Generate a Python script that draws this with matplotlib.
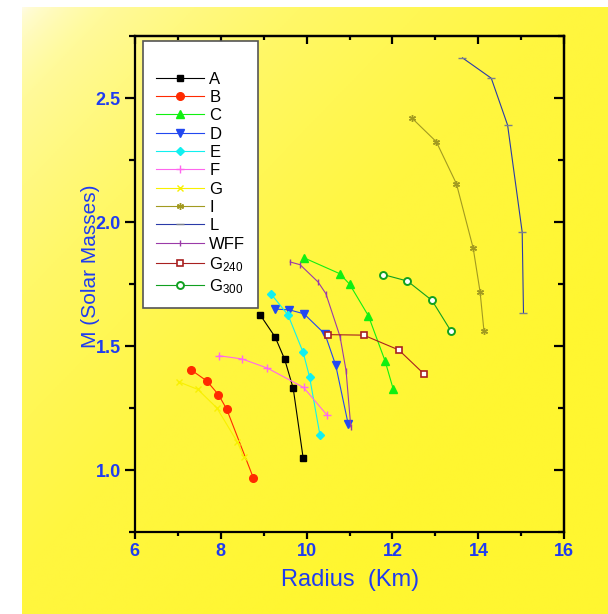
import numpy as np
import matplotlib.pyplot as plt
from matplotlib.colors import LinearSegmentedColormap
from matplotlib.ticker import MultipleLocator

plt.rcParams['font.family'] = ['Liberation Sans', 'DejaVu Sans']
plt.rcParams['mathtext.default'] = 'regular'

# mass-radius relations, radius in km, mass in solar masses
r_a = [8.92, 9.27, 9.49, 9.69, 9.92]
m_a = [1.627, 1.537, 1.448, 1.330, 1.051]

r_b = [7.32, 7.68, 7.95, 8.14, 8.76]
m_b = [1.404, 1.360, 1.305, 1.247, 0.970]

r_c = [9.95, 10.77, 11.00, 11.44, 11.83, 12.02]
m_c = [1.856, 1.793, 1.751, 1.623, 1.440, 1.326]

r_d = [9.26, 9.60, 9.94, 10.43, 10.68, 10.97]
m_d = [1.650, 1.647, 1.631, 1.549, 1.423, 1.186]

r_e = [9.17, 9.57, 9.92, 10.07, 10.31]
m_e = [1.712, 1.626, 1.476, 1.377, 1.144]

r_f = [7.96, 8.50, 9.09, 9.93, 10.47]
m_f = [1.462, 1.449, 1.412, 1.334, 1.224]

r_g = [7.02, 7.47, 7.91, 8.39, 8.54]
m_g = [1.357, 1.326, 1.252, 1.114, 1.054]

r_i = [12.46, 13.02, 13.49, 13.88, 14.04, 14.13]
m_i = [2.419, 2.325, 2.155, 1.895, 1.719, 1.562]

r_l = [13.63, 14.30, 14.68, 15.02, 15.05]
m_l = [2.663, 2.581, 2.392, 1.960, 1.636]

r_wff = [9.62, 9.85, 10.27, 10.45, 10.78, 10.92, 11.03]
m_wff = [1.840, 1.829, 1.759, 1.712, 1.539, 1.402, 1.175]

r_g240 = [10.51, 11.33, 12.15, 12.73]
m_g240 = [1.547, 1.545, 1.485, 1.389]

r_g300 = [11.79, 12.35, 12.92, 13.36]
m_g300 = [1.789, 1.763, 1.685, 1.562]

x_ticks = [6, 8, 10, 12, 14, 16]
y_ticks = [1.0, 1.5, 2.0, 2.5]

blue = '#1f3cf0'

fig = plt.figure(figsize=(6.08, 6.14), dpi=100)

# pale-to-yellow backdrop
bg = fig.add_axes([22 / 608, 0, 1 - 22 / 608, 1 - 7 / 614], zorder=-10)
u, v = np.meshgrid(np.linspace(0, 1, 300), np.linspace(0, 1, 300))
t = np.clip((u + v) / 1.5, 0, 1) ** 0.6
cmap = LinearSegmentedColormap.from_list(
    'bg', ['#fffce6', '#fffa9a', '#fff868', '#fff640', '#fff630'])
bg.imshow(t, cmap=cmap, aspect='auto', origin='upper', extent=[0, 1, 0, 1],
          vmin=0, vmax=1)
bg.axis('off')

ax = fig.add_axes([134.7 / 608, 1 - 532.3 / 614,
                   (564.3 - 134.7) / 608, (532.3 - 36.3) / 614])
ax.patch.set_alpha(0)

lw = 0.8
series = [
    (r_a, m_a, 'A', dict(color='black', marker='s', ms=4.5)),
    (r_b, m_b, 'B', dict(color='#ff2a00', marker='o', ms=5.5)),
    (r_c, m_c, 'C', dict(color='#10f010', marker='^', ms=5.5)),
    (r_d, m_d, 'D', dict(color='#2248f0', marker='v', ms=5.5)),
    (r_e, m_e, 'E', dict(color='#10f0f0', marker='D', ms=4)),
    (r_f, m_f, 'F', dict(color='#ff66ee', marker='+', ms=5.5)),
    (r_g, m_g, 'G', dict(color='#f8f000', marker='x', ms=4.5)),
    (r_i, m_i, 'I', dict(color='#a29a20', marker=(6, 2, 0), ms=5)),
    (r_l, m_l, 'L', dict(color='#2a3aa8', marker='_', ms=6, mec='#7a7f8c')),
    (r_wff, m_wff, 'WFF', dict(color='#9b3aa8', marker='|', ms=5)),
    (r_g240, m_g240, 'G$_{240}$',
     dict(color='#a82020', marker='s', ms=4.5, mfc='white', mew=1.2)),
    (r_g300, m_g300, 'G$_{300}$',
     dict(color='#10a020', marker='o', ms=5, mfc='white', mew=1.4)),
]
for r, m, name, style in series:
    ax.plot(r, m, lw=lw, label=name, **style)

ax.set_xlim(6, 16)
ax.set_ylim(0.75, 2.75)
ax.set_xticks(x_ticks)
ax.set_yticks(y_ticks)
ax.xaxis.set_minor_locator(MultipleLocator(1))
ax.yaxis.set_minor_locator(MultipleLocator(0.25))
ax.set_yticklabels(['%.1f' % y for y in y_ticks])

for s in ax.spines.values():
    s.set_linewidth(1.6)

ax.tick_params(axis='x', which='major', direction='out', length=5, width=1.6,
               pad=3, labelsize=13, labelcolor=blue)
ax.tick_params(axis='x', which='minor', direction='out', length=3, width=1.6)
ax.tick_params(axis='y', which='major', direction='out', length=7, width=1.6,
               pad=3, labelsize=13, labelcolor=blue)
ax.tick_params(axis='y', which='minor', direction='out', length=4.5, width=1.6)
for lab in ax.get_xticklabels() + ax.get_yticklabels():
    lab.set_fontweight('bold')

# inward ticks on the top and right frame
top = ax.secondary_xaxis('top')
top.set_xticks(x_ticks)
top.xaxis.set_minor_locator(MultipleLocator(1))
top.tick_params(which='major', direction='in', length=5.5, width=1.6,
                labeltop=False)
top.tick_params(which='minor', direction='in', length=3, width=1.6)
top.spines['top'].set_linewidth(1.6)
right = ax.secondary_yaxis('right')
right.set_yticks(y_ticks)
right.yaxis.set_minor_locator(MultipleLocator(0.25))
right.tick_params(which='major', direction='in', length=7, width=1.6,
                  labelright=False)
right.tick_params(which='minor', direction='in', length=4.5, width=1.6)
right.spines['right'].set_linewidth(1.6)

fig.text(350 / 608, 1 - 580 / 614, 'Radius  (Km)', color=blue, fontsize=17,
         ha='center', va='center')
fig.text(90.5 / 608, 1 - 266 / 614, 'M (Solar Masses)', color=blue,
         fontsize=15, rotation=90, ha='center', va='center')

leg = ax.legend(loc='upper left', bbox_to_anchor=(143.3 / 608, 1 - 40.7 / 614),
                bbox_transform=fig.transFigure, borderaxespad=0, numpoints=1,
                fontsize=12, handlelength=2.9, handletextpad=0.3,
                borderpad=0.75, labelspacing=0.2, title=' ', title_fontsize=12,
                fancybox=False, framealpha=1, edgecolor='#555555')
leg.get_frame().set_linewidth(1.2)

fig.savefig('out.png', dpi=100)
